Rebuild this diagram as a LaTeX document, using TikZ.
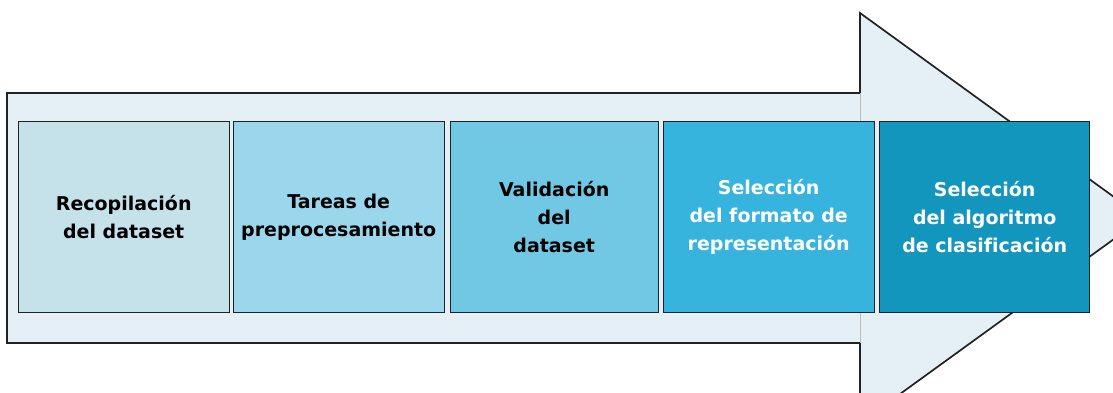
\documentclass[tikz,border=0pt]{standalone}
\usepackage{fontspec}
\setmainfont{DejaVu Sans}[Ligatures=NoCommon]
\definecolor{arrowbg}{HTML}{E4F0F5}
\definecolor{edge}{HTML}{222222}
\definecolor{cA}{HTML}{C5E2EA}
\definecolor{cB}{HTML}{9AD6EC}
\definecolor{cC}{HTML}{70C8E5}
\definecolor{cD}{HTML}{37B4DE}
\definecolor{cE}{HTML}{1396BD}
\definecolor{seam}{HTML}{BBBBBB}
\tikzset{
  stepbox/.style={draw=edge, line width=1.4pt, minimum width=210pt, minimum height=191pt,
    inner sep=0pt, align=center, font=\fontsize{19}{28}\selectfont\bfseries, anchor=north west},
}
\begin{document}
\begin{tikzpicture}[x=1pt,y=-1pt]
\useasboundingbox (0,0) rectangle (1113,393);
\clip (0,0) rectangle (1113,393);
\draw[fill=arrowbg, draw=edge, line width=1.7pt, line join=miter]
  (7,93) -- (860,93) -- (860,13) -- (1143,218) -- (860,423) -- (860,343) -- (7,343) -- cycle;
\draw[seam, line width=1pt] (860,93) -- (860,343);
\node[stepbox, fill=cA, text=black, minimum width=211pt] (s1) at (17.5,121) {Recopilación\\del dataset};
\node[stepbox, fill=cB, text=black, minimum width=211pt] (s2) at (232.5,121) {Tareas de\\preprocesamiento};
\node[stepbox, fill=cC, text=black, minimum width=208pt] (s3) at (449.5,121) {Validación\\del\\dataset};
\node[stepbox, fill=cD, text=white, minimum width=211pt] (s4) at (662.5,121) {Selección\\del formato de\\representación};
\node[stepbox, fill=cE, text=white, minimum width=210pt] (s5) at (879,121) {Selección\\del algoritmo\\de clasificación};
\end{tikzpicture}
\end{document}
